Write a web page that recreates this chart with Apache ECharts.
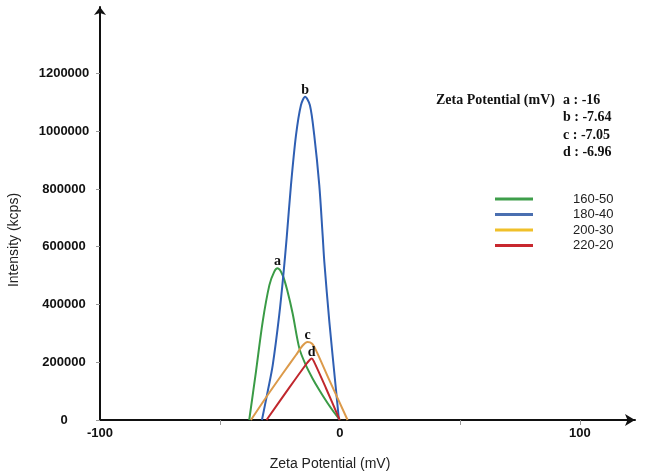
<!DOCTYPE html>
<html>
<head>
<meta charset="utf-8">
<script src="https://cdn.jsdelivr.net/npm/echarts@6/dist/echarts.min.js"></script>
<style>html,body{margin:0;padding:0;background:#fff}#c{width:645px;height:474px}</style>
</head>
<body>
<div id="c"></div>
<script>
const seriesNames = ['160-50', '180-40', '200-30', '220-20'];
const peakLetters = ['a', 'b', 'c', 'd'];
const zetaLines = ['a : -16', 'b : -7.64', 'c : -7.05', 'd : -6.96'];
const xTickLabels = [-100, 0, 100];
const yTickLabels = [0, 200000, 400000, 600000, 800000, 1000000, 1200000];

const mv160 = [-37.8, -35, -32.2, -29.4, -27.4, -26, -23.9, -21.8, -19.7, -16.9, -14.2, -11.4, -8.6, -5.1, -2.4, 0];
const int160 = [0, 167000, 340000, 467000, 513000, 525000, 502000, 444000, 369000, 248000, 190000, 144000, 104000, 58000, 26000, 0];

const mv180 = [-32.5, -30, -28, -25.3, -23.6, -22.2, -20.4, -18.3, -16.25, -14.5, -12.5, -10.7, -8.6, -7.2, -6.5, -4.4, -1.7, -0.4];
const int180 = [0, 103000, 190000, 363000, 500000, 630000, 813000, 986000, 1090000, 1119000, 1090000, 986000, 813000, 640000, 548000, 340000, 110000, 0];

const mv200 = [-37.1, -30.8, -23.9, -18.3, -15.6, -13.5, -11.7, -10, -4.4, 3.2];
const int200 = [0, 78000, 160000, 225000, 257000, 270000, 265000, 242000, 138000, 0];

const mv220 = [-30.6, -21.1, -14, -12.7, -11.8, -10.9, -5.8, -0.1];
const int220 = [0, 112000, 194000, 207000, 213000, 204000, 110000, 0];

const xsList = [mv160, mv180, mv200, mv220];
const ysList = [int160, int180, int200, int220];
const lineColors = ['#3a9b46', '#2f5fb3', '#dc9a4a', '#c0272d'];
const legendColors = ['#3e9e4a', '#4a6fb0', '#f0c02a', '#c8282f'];

const chart = echarts.init(document.getElementById('c'), null, {renderer: 'canvas'});

const series = seriesNames.map((name, i) => ({
  name: name,
  type: 'line',
  smooth: 0.3,
  symbol: 'none',
  color: lineColors[i],
  lineStyle: {width: 2, color: lineColors[i]},
  data: xsList[i].map((x, j) => [x, ysList[i][j]]),
  markPoint: {
    symbol: 'circle',
    symbolSize: 1,
    itemStyle: {color: 'rgba(0,0,0,0)'},
    label: {
      show: true, position: 'top', distance: -1,
      formatter: peakLetters[i],
      fontFamily: 'Liberation Serif', fontWeight: 'bold', fontSize: 14, color: '#111'
    },
    data: [{type: 'max', valueDim: 'y'}]
  }
}));

const graphics = [
  {type: 'text', left: 436, top: 93, style: {text: 'Zeta Potential (mV)', font: 'bold 14px "Liberation Serif"', fill: '#111'}}
].concat(zetaLines.map((t, i) => ({
  type: 'text', left: 563, top: 93 + i * 17.6,
  style: {text: t, font: 'bold 14px "Liberation Serif"', fill: '#111'}
}))).concat([
  {type: 'text', x: 330, y: 464, style: {text: 'Zeta Potential (mV)', font: '14px "Liberation Sans"', fill: '#222', align: 'center', verticalAlign: 'middle'}},
  {type: 'text', x: 14, y: 240, rotation: Math.PI / 2, style: {text: 'Intensity (kcps)', font: '14px "Liberation Sans"', fill: '#222', align: 'center', verticalAlign: 'middle'}}
]);

chart.setOption({
  animation: false,
  backgroundColor: '#fff',
  grid: {left: 100, right: 10, top: 7, bottom: 54, containLabel: false},
  legend: {
    orient: 'vertical',
    left: 490,
    top: 187,
    icon: 'rect',
    itemWidth: 38,
    itemHeight: 3,
    itemGap: 1.5,
    textStyle: {fontFamily: 'Liberation Sans', fontSize: 13, color: '#222', lineHeight: 14, padding: [0, 0, 0, 35]},
    data: seriesNames.map((n, i) => ({name: n, itemStyle: {color: legendColors[i]}}))
  },
  xAxis: {
    type: 'value',
    min: -100,
    max: 123,
    interval: 50,
    splitLine: {show: false},
    axisLine: {show: true, onZero: false, lineStyle: {color: '#111', width: 2}, symbol: ['none', 'arrow'], symbolSize: [9, 10]},
    axisTick: {show: true, length: 5, lineStyle: {color: '#999'}, customValues: [-50, 50, 100]},
    axisLabel: {
      customValues: xTickLabels,
      margin: 7,
      fontFamily: 'Liberation Sans', fontWeight: 'bold', fontSize: 13, color: '#111'
    }
  },
  yAxis: {
    type: 'value',
    min: 0,
    max: 1430000,
    interval: 200000,
    splitLine: {show: false},
    axisLine: {show: true, onZero: false, lineStyle: {color: '#111', width: 2}, symbol: ['none', 'arrow'], symbolSize: [9, 8]},
    axisTick: {show: true, length: 4, lineStyle: {color: '#999'}, customValues: yTickLabels},
    axisLabel: {
      customValues: yTickLabels,
      formatter: v => String(v),
      align: 'center',
      margin: 36,
      fontFamily: 'Liberation Sans', fontWeight: 'bold', fontSize: 13, color: '#111'
    }
  },
  graphic: graphics,
  series: series
});
</script>
</body>
</html>
